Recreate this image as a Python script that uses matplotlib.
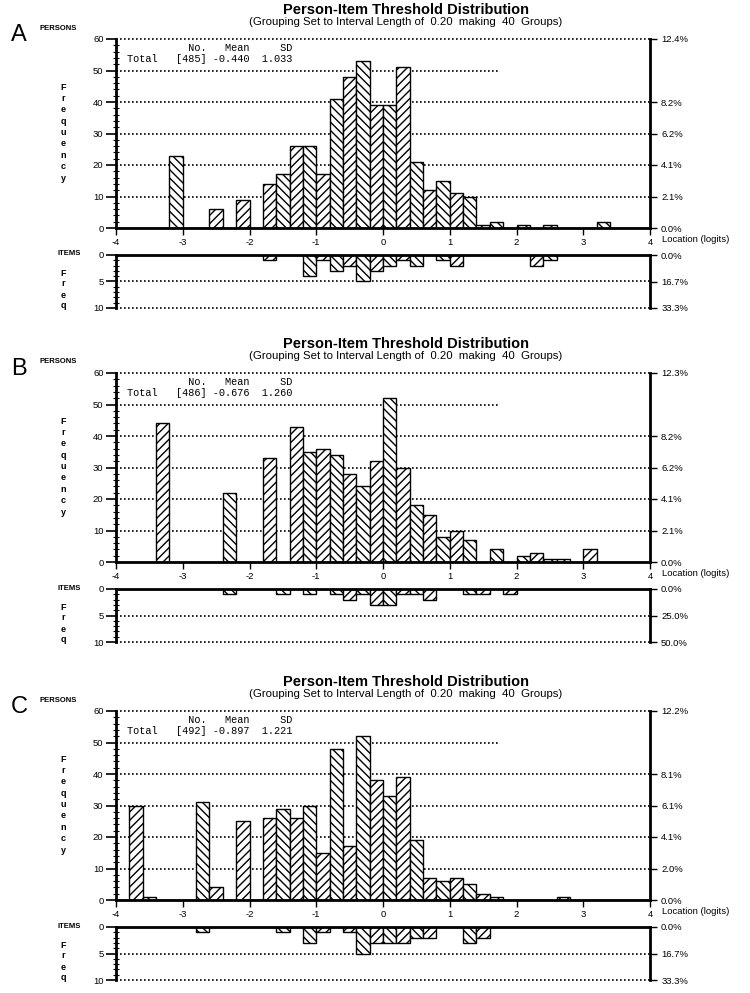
import numpy as np
import matplotlib.pyplot as plt
from matplotlib.ticker import MultipleLocator

plt.rcParams['font.family'] = ['Liberation Sans', 'DejaVu Sans']
plt.rcParams['axes.unicode_minus'] = False
plt.rcParams['hatch.linewidth'] = 1.0

# 40 groups, interval length 0.2, from -4 to 4 logits
bin_left = np.round(np.arange(-4, 4, 0.2), 2)

a_persons = [0, 0, 0, 0, 23, 0, 0, 6, 0, 9,
             0, 14, 17, 26, 26, 17, 41, 48, 53, 39,
             39, 51, 21, 12, 15, 11, 10, 1, 2, 0,
             1, 0, 1, 0, 0, 0, 2, 0, 0, 0]
a_items = [0, 0, 0, 0, 0, 0, 0, 0, 0, 0,
           0, 1, 0, 0, 4, 1, 3, 2, 5, 3,
           2, 1, 2, 0, 1, 2, 0, 0, 0, 0,
           0, 2, 1, 0, 0, 0, 0, 0, 0, 0]

b_persons = [0, 0, 0, 44, 0, 0, 0, 0, 22, 0,
             0, 33, 0, 43, 35, 36, 34, 28, 24, 32,
             52, 30, 18, 15, 8, 10, 7, 0, 4, 0,
             2, 3, 1, 1, 0, 4, 0, 0, 0, 0]
b_items = [0, 0, 0, 0, 0, 0, 0, 0, 1, 0,
           0, 0, 1, 0, 1, 0, 1, 2, 1, 3,
           3, 1, 1, 2, 0, 0, 1, 1, 0, 1,
           0, 0, 0, 0, 0, 0, 0, 0, 0, 0]

c_persons = [0, 30, 1, 0, 0, 0, 31, 4, 0, 25,
             0, 26, 29, 26, 30, 15, 48, 17, 52, 38,
             33, 39, 19, 7, 6, 7, 5, 2, 1, 0,
             0, 0, 0, 1, 0, 0, 0, 0, 0, 0]
c_items = [0, 0, 0, 0, 0, 0, 1, 0, 0, 0,
           0, 0, 1, 0, 3, 1, 0, 1, 5, 3,
           3, 3, 2, 2, 0, 0, 3, 2, 0, 0,
           0, 0, 0, 0, 0, 0, 0, 0, 0, 0]

panel_labels = ['A', 'B', 'C']
person_means = [-0.440, -0.676, -0.897]
person_sds = [1.033, 1.260, 1.221]

W, H = 750, 993
DOT = (0, (1, 1.4))


def frac(x0, y0, x1, y1):
    return [x0 / W, 1 - y1 / H, (x1 - x0) / W, (y1 - y0) / H]


def hatched_bars(ax, counts):
    bars = ax.bar(bin_left, counts, width=0.2, align='edge', facecolor='white',
                  edgecolor='black', linewidth=1.0, zorder=2)
    for k, b in enumerate(bars):
        b.set_hatch('\\\\\\\\' if k % 2 == 0 else '////')


def draw_panel(fig, top, label, persons, items, mean, sd):
    n_p, n_i = sum(persons), sum(items)

    # persons histogram
    ax = fig.add_axes(frac(116, top, 650, top + 189))
    ax.set_xlim(-4, 4)
    ax.set_ylim(0, 60)
    hatched_bars(ax, persons)
    for v in [10, 20, 30, 40, 60]:
        ax.axhline(v, color='black', ls=DOT, lw=1.2, zorder=1, clip_on=False)
    ax.axhline(50, xmax=(1.76 + 4) / 8, color='black', ls=DOT, lw=1.2, zorder=1)
    for s in ['top', 'right']:
        ax.spines[s].set_visible(False)
    for s in ['left', 'bottom']:
        ax.spines[s].set_linewidth(2)
    ax.set_yticks(range(0, 61, 10))
    ax.yaxis.set_minor_locator(MultipleLocator(2))
    ax.tick_params(axis='y', which='major', direction='out', length=7, width=1.2,
                   labelsize=6.8, pad=2)
    ax.tick_params(axis='y', which='minor', direction='inout', length=4, width=0.8)
    ax.set_xticks(range(-4, 5))
    ax.tick_params(axis='x', direction='out', length=5, width=1, labelsize=6.8, pad=2)

    axr = ax.twinx()
    axr.set_ylim(0, 60)
    pticks = [0, 10, 20, 30, 40, 60]
    axr.set_yticks(pticks)
    axr.set_yticklabels([f'{v / n_p * 100:.1f}%' for v in pticks])
    for s in ['top', 'left', 'bottom']:
        axr.spines[s].set_visible(False)
    axr.spines['right'].set_linewidth(2)
    axr.tick_params(axis='y', direction='out', length=5, width=1, labelsize=6.8, pad=3)

    ax.text(-3.84, 57.3, ' ' * 10 + 'No.' + ' ' * 3 + 'Mean' + ' ' * 5 + 'SD',
            family='Liberation Mono', fontsize=7.4, va='center')
    ax.text(-3.84, 53.8, f'Total   [{n_p}] {mean:.3f}  {sd:.3f}',
            family='Liberation Mono', fontsize=7.4, va='center')

    # items histogram, hanging down
    ai = fig.add_axes(frac(116, top + 216, 650, top + 269))
    ai.set_xlim(-4, 4)
    ai.set_ylim(10, 0)
    hatched_bars(ai, items)
    for v in [5, 10]:
        ai.axhline(v, color='black', ls=DOT, lw=1.2, zorder=1, clip_on=False)
    ai.spines['bottom'].set_visible(False)
    ai.spines['right'].set_visible(False)
    for s in ['top', 'left']:
        ai.spines[s].set_linewidth(2)
    ai.set_xticks([])
    ai.set_yticks([0, 5, 10])
    ai.yaxis.set_minor_locator(MultipleLocator(1))
    ai.tick_params(axis='y', which='major', direction='out', length=7, width=1.2,
                   labelsize=6.8, pad=2)
    ai.tick_params(axis='y', which='minor', direction='inout', length=4, width=0.8)

    air = ai.twinx()
    air.set_ylim(10, 0)
    air.set_yticks([0, 5, 10])
    air.set_yticklabels([f'{v / n_i * 100:.1f}%' for v in [0, 5, 10]])
    for s in ['top', 'left', 'bottom']:
        air.spines[s].set_visible(False)
    air.spines['right'].set_linewidth(2)
    air.tick_params(axis='y', direction='out', length=5, width=1, labelsize=6.8, pad=3)

    # titles and side labels
    fig.text(406 / W, 1 - (top - 29) / H, 'Person-Item Threshold Distribution',
             ha='center', va='center', fontsize=10.5, fontweight='bold')
    fig.text(406 / W, 1 - (top - 17) / H,
             '(Grouping Set to Interval Length of  0.20  making  40  Groups)',
             ha='center', va='center', fontsize=8.2)
    fig.text(11 / W, 1 - (top - 4) / H, label, ha='left', va='center', fontsize=17)
    fig.text(40 / W, 1 - (top - 11) / H, 'PERSONS', ha='left', va='center',
             fontsize=5.5, fontweight='bold')
    fig.text(662 / W, 1 - (top + 201) / H, 'Location (logits)', ha='left',
             va='center', fontsize=6.8)
    for i, ch in enumerate('Frequency'):
        fig.text(63 / W, 1 - (top + 48 + 11.4 * i) / H, ch, ha='center',
                 va='center', fontsize=6.5, fontweight='bold')
    fig.text(81 / W, 1 - (top + 215) / H, 'ITEMS', ha='right', va='center',
             fontsize=5.5, fontweight='bold')
    for i, ch in enumerate('Freq'):
        fig.text(63 / W, 1 - (top + 234 + 11 * i) / H, ch, ha='center',
                 va='center', fontsize=6.5, fontweight='bold')


fig = plt.figure(figsize=(7.5, 9.93), dpi=100)
panel_tops = [39, 373, 711]
persons_all = [a_persons, b_persons, c_persons]
items_all = [a_items, b_items, c_items]
for top, lab, p, it, m, s in zip(panel_tops, panel_labels, persons_all, items_all,
                                 person_means, person_sds):
    draw_panel(fig, top, lab, p, it, m, s)

fig.savefig('out.png', dpi=100, facecolor='white')
